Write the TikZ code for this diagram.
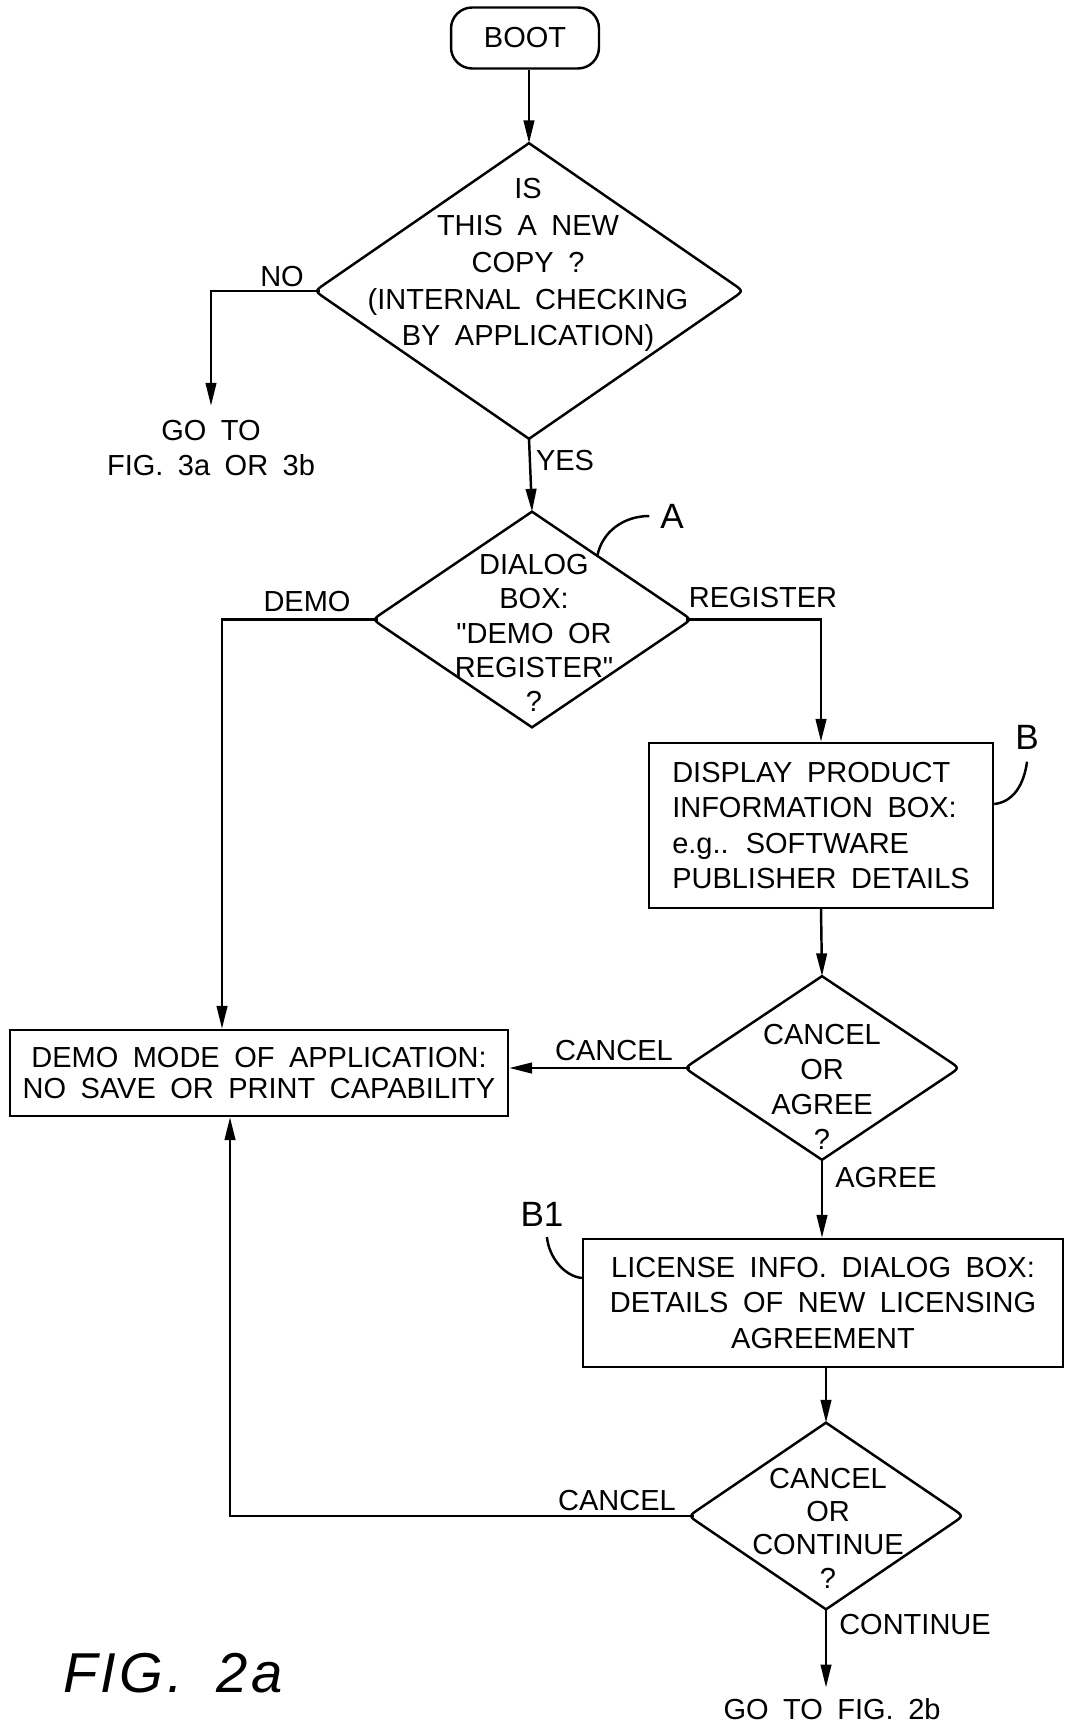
\documentclass[tikz,border=0pt]{standalone}
\usepackage{fontspec}
\setmainfont{Liberation Sans}[WordSpace=1.8, Ligatures=TeXOff]
\usetikzlibrary{shapes.geometric,arrows.meta,calc}

\tikzset{
  wire/.style={line width=1.4pt},
  flow/.style={line width=1.4pt, -{Triangle[length=13pt,width=6pt]}},
  say/.style={font=\fontsize{16.5}{20}\selectfont, inner sep=0pt, align=center},
  tag/.style={font=\fontsize{20}{24}\selectfont, inner sep=0pt},
  process/.style={draw, line width=1.4pt, font=\fontsize{16.5}{20}\selectfont, inner sep=0pt},
  decision/.style={diamond, inner sep=0pt},
}

% diamond outline, sharp at top and bottom, rounded at the sides
\newcommand{\decisionedge}[1]{%
  \draw[wire] (#1.north) -- ($(#1.east)!7pt!(#1.north)$) .. controls (#1.east) .. ($(#1.east)!7pt!(#1.south)$)
    -- (#1.south) -- ($(#1.west)!7pt!(#1.south)$) .. controls (#1.west) .. ($(#1.west)!7pt!(#1.north)$) -- cycle;}

\begin{document}
\begin{tikzpicture}[x=0.02cm, y=-0.02cm]
  \useasboundingbox (0,0) rectangle (1065,1726);

  % boxes
  \node[process, rounded corners=12pt, minimum width=2.96cm, minimum height=1.22cm] (boot) at (525,38) {BOOT};

  \node[decision, minimum width=8.56cm, minimum height=5.9cm] (newcopy) at (529,291) {};
  \decisionedge{newcopy}
  \node[say, font=\fontsize{16.5}{21}\selectfont] (newcopytext) at (528,265)
    {IS\\THIS A NEW\\COPY ?\\(INTERNAL CHECKING\\BY APPLICATION)};

  \node[say, inner sep=8pt] (gotothree) at (211,448) {GO TO\\FIG. 3a OR 3b};

  \node[decision, minimum width=6.36cm, minimum height=4.3cm] (dialog) at (532,619.5) {};
  \decisionedge{dialog}
  \node[say, font=\fontsize{16.5}{19.5}\selectfont] (dialogtext) at (534,633)
    {DIALOG\\BOX:\\"DEMO OR\\REGISTER"\\?};

  \node[process, align=left, minimum width=6.88cm, minimum height=3.3cm] (product) at (821,825.5)
    {DISPLAY PRODUCT\\INFORMATION BOX:\\e.g.. SOFTWARE\\PUBLISHER DETAILS};

  \node[decision, minimum width=5.48cm, minimum height=3.66cm] (agree) at (822,1068) {};
  \decisionedge{agree}
  \node[say] (agreetext) at (822,1087) {CANCEL\\OR\\AGREE\\?};

  \node[process, align=center, minimum width=9.96cm, minimum height=1.72cm,
        font=\fontsize{16.5}{17.6}\selectfont] (demo) at (259,1073)
    {DEMO MODE OF APPLICATION:\\NO SAVE OR PRINT CAPABILITY};

  \node[process, align=center, minimum width=9.6cm, minimum height=2.56cm] (license) at (823,1303)
    {LICENSE INFO. DIALOG BOX:\\DETAILS OF NEW LICENSING\\AGREEMENT};

  \node[decision, minimum width=5.48cm, minimum height=3.72cm] (continue) at (826,1516) {};
  \decisionedge{continue}
  \node[say, font=\fontsize{16.5}{19}\selectfont] (continuetext) at (828,1528) {CANCEL\\OR\\CONTINUE\\?};

  \node[say, inner sep=6pt] (gototwob) at (832,1709) {GO TO FIG. 2b};

  % branch labels
  \node[say] (nolbl) at (282,277) {NO};
  \node[say] (yeslbl) at (565,461) {YES};
  \node[say] (demolbl) at (307,602) {DEMO};
  \node[say] (reglbl) at (763,598) {REGISTER};
  \node[say] (cancelone) at (614,1051) {CANCEL};
  \node[say] (agreelbl) at (886,1178) {AGREE};
  \node[say] (canceltwo) at (617,1501) {CANCEL};
  \node[say] (contlbl) at (915,1625) {CONTINUE};

  % reference letters
  \node[tag] (taga) at (672,516) {A};
  \node[tag] (tagb) at (1027,737) {B};
  \node[tag] (tagbone) at (542,1214) {B1};
  \draw[wire] ($(dialog.north)!0.41!(dialog.east)$) .. controls +(0.1cm,0.5cm) and +(-0.5cm,0cm) .. ([xshift=-6pt]taga.west);
  \draw[wire] ([yshift=0.43cm]product.east) .. controls +(0.38cm,0.04cm) and +(-0.06cm,-0.46cm) .. ([yshift=-7pt]tagb.south);
  \draw[wire] ([yshift=0.5cm]license.west) .. controls +(-0.36cm,0.04cm) and +(0.04cm,-0.4cm) .. ([xshift=2.8pt,yshift=-6pt]tagbone.south);

  % connectors
  \draw[flow] (boot.south -| newcopy.north) -- (newcopy.north);
  \draw[flow] ([xshift=2.9pt]newcopy.west) -| (gotothree.north);
  \draw[flow] (newcopy.south) -- (dialog.north);
  \draw[flow] ([xshift=2.9pt]dialog.west) -| ([xshift=-0.74cm]demo.north);
  \draw[flow] ([xshift=-2.9pt]dialog.east) -| (product.north);
  \draw[flow] (product.south) -- (agree.north);
  \draw[flow] ([xshift=2.9pt]agree.west) -- (agree.west -| demo.east);
  \draw[flow] (agree.south) -- (agree.south |- license.north);
  \draw[flow] (continue.north |- license.south) -- (continue.north);
  \draw[flow] ([xshift=2.9pt]continue.west) -| ([xshift=-0.58cm]demo.south);
  \draw[flow] (continue.south) -- (continue.south |- gototwob.north);

  \node[font=\fontsize{32}{36}\selectfont\itshape\addfontfeatures{LetterSpace=6}, inner sep=0pt] (fig) at (173,1673) {FIG. 2a};
\end{tikzpicture}
\end{document}
